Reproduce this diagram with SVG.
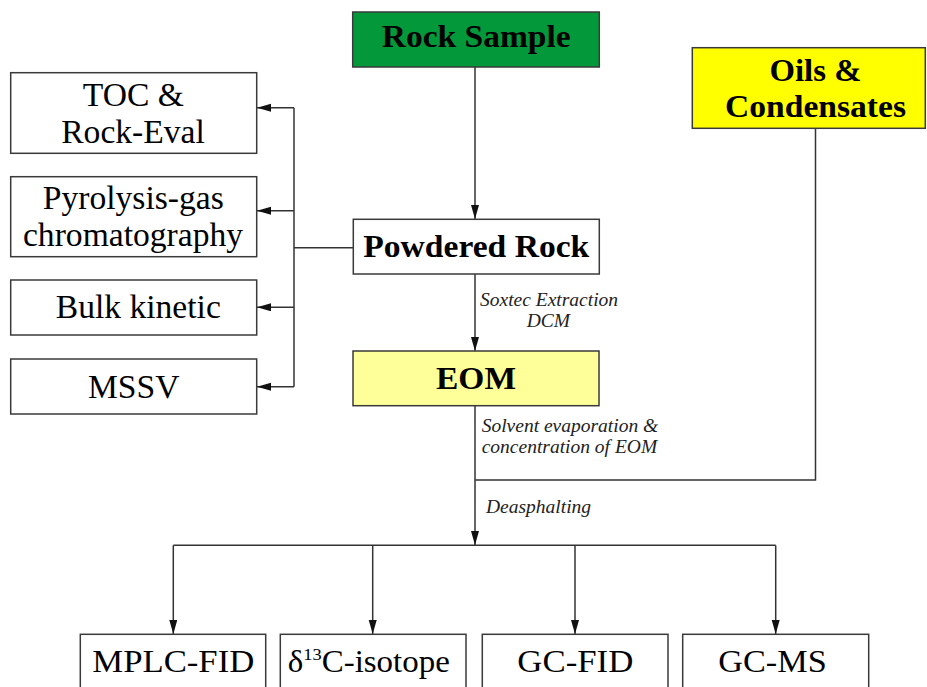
<svg xmlns="http://www.w3.org/2000/svg" width="927" height="687" viewBox="0 0 927 687">
<defs>
<style>
.box{stroke:#3a3a3a;stroke-width:1.5}
.w{fill:#ffffff}
.g{fill:#03993a}
.y{fill:#ffff00}
.ly{fill:#ffff99}
.conn{fill:none;stroke:#333333;stroke-width:1.5}
.b{font-family:"Liberation Serif","Times New Roman",serif;font-weight:bold;font-size:31px;fill:#000;text-anchor:middle}
.r{font-family:"Liberation Serif","Times New Roman",serif;font-size:33.6px;fill:#000;text-anchor:middle}
.rb{font-family:"Liberation Serif","Times New Roman",serif;font-size:30.5px;fill:#000;text-anchor:middle}
.i{font-family:"Liberation Serif","Times New Roman",serif;font-style:italic;font-size:19.5px;fill:#222}
</style>
<marker id="arr" markerUnits="userSpaceOnUse" markerWidth="15" markerHeight="9" refX="14" refY="4" orient="auto">
<path d="M0,0 L14,4 L0,8 z" fill="#111"/>
</marker>
</defs>
<rect width="927" height="687" fill="#ffffff"/>

<g id="connectors">
<path class="conn" d="M475,67 V219" marker-end="url(#arr)"/>
<path class="conn" d="M475,274 V351" marker-end="url(#arr)"/>
<path class="conn" d="M353,247.7 H294"/>
<path class="conn" d="M294,107.7 V386.7"/>
<path class="conn" d="M294,107.7 H257" marker-end="url(#arr)"/>
<path class="conn" d="M294,210.7 H257" marker-end="url(#arr)"/>
<path class="conn" d="M294,307.3 H257" marker-end="url(#arr)"/>
<path class="conn" d="M294,386.7 H257" marker-end="url(#arr)"/>
<path class="conn" d="M475,405.7 V545" marker-end="url(#arr)"/>
<path class="conn" d="M815.5,128.3 V480 H475"/>
<path class="conn" d="M173.3,545.3 H775.7"/>
<path class="conn" d="M173.3,545.3 V634" marker-end="url(#arr)"/>
<path class="conn" d="M372.7,545.3 V634" marker-end="url(#arr)"/>
<path class="conn" d="M575,545.3 V634" marker-end="url(#arr)"/>
<path class="conn" d="M775.7,545.3 V634" marker-end="url(#arr)"/>
<text class="i" x="480" y="306">Soxtec Extraction</text>
<text class="i" x="526.7" y="327.3">DCM</text>
<text class="i" x="481.7" y="432.3">Solvent evaporation &amp;</text>
<text class="i" x="481.7" y="453.3">concentration of EOM</text>
<text class="i" x="486" y="512.7">Deasphalting</text>
</g>

<g id="rock-sample">
<rect class="box g" x="352.7" y="12" width="246.6" height="55"/>
<text class="b" x="476.2" y="46.7" textLength="189" lengthAdjust="spacingAndGlyphs">Rock Sample</text>
</g>

<g id="oils-condensates">
<rect class="box y" x="692.3" y="47.7" width="233" height="80.6"/>
<text class="b" x="815.5" y="80.7" textLength="92" lengthAdjust="spacingAndGlyphs">Oils &amp;</text>
<text class="b" x="815.5" y="117.3" textLength="181" lengthAdjust="spacingAndGlyphs">Condensates</text>
</g>

<g id="powdered-rock">
<rect class="box w" x="353.3" y="219.3" width="246" height="54.7"/>
<text class="b" x="476.3" y="256.7" textLength="226" lengthAdjust="spacingAndGlyphs">Powdered Rock</text>
</g>

<g id="eom">
<rect class="box ly" x="353" y="351" width="246" height="54.7"/>
<text class="b" x="476" y="389.3" textLength="80" lengthAdjust="spacingAndGlyphs">EOM</text>
</g>

<g id="toc-rock-eval">
<rect class="box w" x="10.7" y="72.7" width="246" height="80.6"/>
<text class="r" x="133.3" y="106">TOC &amp;</text>
<text class="r" x="133" y="143.3">Rock-Eval</text>
</g>

<g id="pyrolysis-gc">
<rect class="box w" x="10.7" y="176.7" width="246" height="80"/>
<text class="r" x="133.3" y="209">Pyrolysis-gas</text>
<text class="r" x="133" y="246">chromatography</text>
</g>

<g id="bulk-kinetic">
<rect class="box w" x="10.7" y="280" width="246" height="55"/>
<text class="r" x="138.3" y="318.3">Bulk kinetic</text>
</g>

<g id="mssv">
<rect class="box w" x="10.7" y="359" width="246" height="55"/>
<text class="r" x="133.7" y="398.3">MSSV</text>
</g>

<g id="mplc-fid">
<rect class="box w" x="80.3" y="634.3" width="185.4" height="70"/>
<text class="rb" x="173.3" y="671.7" textLength="162" lengthAdjust="spacingAndGlyphs">MPLC-FID</text>
</g>

<g id="d13c-isotope">
<rect class="box w" x="280.3" y="634.3" width="185.7" height="70"/>
<text class="rb" x="368.8" y="671.7" textLength="162" lengthAdjust="spacingAndGlyphs">δ<tspan font-size="17" dy="-12">13</tspan><tspan dy="12">C-isotope</tspan></text>
</g>

<g id="gc-fid">
<rect class="box w" x="482.3" y="634.3" width="185.7" height="70"/>
<text class="rb" x="575.3" y="671.7" textLength="116" lengthAdjust="spacingAndGlyphs">GC-FID</text>
</g>

<g id="gc-ms">
<rect class="box w" x="682.7" y="634.3" width="186" height="70"/>
<text class="rb" x="772.5" y="671.7" textLength="108.3" lengthAdjust="spacingAndGlyphs">GC-MS</text>
</g>
</svg>
